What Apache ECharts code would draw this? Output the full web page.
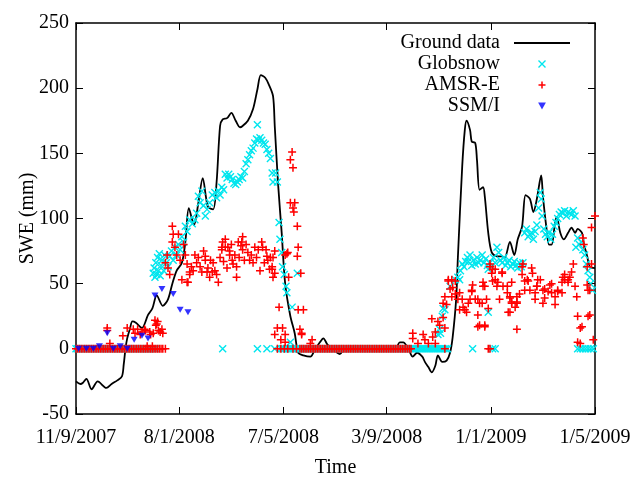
<!DOCTYPE html>
<html>
<head>
<meta charset="utf-8">
<script src="https://cdn.jsdelivr.net/npm/echarts@6/dist/echarts.min.js"></script>
<style>html,body{margin:0;padding:0;background:#fff}#c{width:635px;height:477px}</style>
</head>
<body>
<div id="c"></div>
<script>
// x values are days since 11/9/2007
const tickDays = [0, 119, 239, 358, 478, 598];
const tickLabels = ['11/9/2007', '8/1/2008', '7/5/2008', '3/9/2008', '1/1/2009', '1/5/2009'];
const yTicks = [-50, 0, 50, 100, 150, 200, 250];

const groundData = [[0,-25],[5,-27],[8,-26],[12,-23],[18,-31],[25,-25],[35,-30],[41,-27],[48,-24],[53,-21],[55,-12],[57,0],[59,8],[62,15],[65,21],[69,20],[76,16],[83,26],[88,31],[93,41],[100,33],[106,38],[111,50],[116,60],[122,66],[126,82],[130,108],[136,95],[141,112],[146,131],[152,109],[158,107],[162,128],[166,171],[169,176],[174,177],[179,181],[184,175],[189,170],[192,171],[198,175],[204,184],[209,199],[213,210],[218,208],[222,203],[227,194],[229,171],[233,125],[237,89],[241,50],[247,25],[252,12],[256,-3],[262,-5],[270,-6],[275,-1],[281,5],[285,8],[290,3],[296,0],[301,-3],[304,-4],[310,0],[321,0],[339,0],[356,0],[368,0],[373,5],[377,5],[383,0],[388,-6],[393,-3],[399,-6],[402,-10],[406,-14],[410,-18],[414,-13],[417,-5],[422,-10],[427,-9],[431,-3],[434,9],[438,38],[440,70],[445,140],[448,168],[450,175],[454,168],[456,159],[460,158],[462,145],[465,122],[469,124],[471,117],[475,89],[479,74],[485,71],[491,71],[494,70],[500,82],[505,72],[509,84],[514,94],[518,118],[523,115],[527,105],[531,115],[536,133],[538,117],[542,93],[545,80],[548,80],[552,97],[554,101],[558,89],[562,84],[567,89],[571,93],[575,89],[578,92],[583,89],[585,81],[589,71],[592,63],[598,62]];

const globsnowZeroDays = [0,2,4,6,8,10,12,14,16,18,20,22,24,26,28,30,32,34,36,38,40,42,44,46,48,50,52,54,56,58,60,62,64,66,68,70,72,74,76,78,80,82,84,86,88,90,92,
169,209,220,229,
236,238,240,242,244,246,248,250,252,254,256,258,260,262,264,266,268,270,272,274,276,278,280,282,284,286,288,290,292,294,296,298,300,302,304,306,308,310,312,314,316,318,320,322,324,326,328,330,332,334,336,338,340,342,344,346,348,350,352,354,356,358,360,362,364,366,368,370,372,374,376,378,380,382,384,386,388,390,392,394,396,398,400,402,404,406,408,410,412,414,416,418,420,422,424,426,428,
457,480,483,578,581,584,587,590,593,596];

const globsnowData = [[89,58],[90,62],[91,55],[92,66],[93,57],[94,70],[95,60],[96,73],[97,56],[98,64],[99,68],[101,60],[102,72],[104,66],[106,63],[108,71],[110,75],[112,68],[114,78],[116,72],[118,80],[120,76],[122,86],[124,82],[126,94],[128,90],[131,99],[134,96],[137,99],[139,104],[141,117],[143,112],[145,121],[147,110],[149,102],[151,107],[154,112],[157,118],[160,120],[162,116],[164,121],[166,118],[168,124],[170,122],[172,134],[174,131],[176,134],[178,132],[180,130],[182,127],[184,126],[186,128],[188,130],[190,132],[192,131],[194,136],[196,142],[198,145],[200,149],[202,152],[204,154],[206,158],[208,161],[209,172],[210,160],[212,162],[214,160],[216,158],[218,157],[220,153],[222,150],[224,146],[226,135],[227,128],[230,135],[232,128],[234,97],[235,84],[237,74],[238,63],[240,57],[242,48],[243,43],[249,32],[255,58],[247,5],
[417,11],[419,15],[420,12],[422,25],[423,31],[425,30],[431,48],[437,53],[440,55],[442,53],[443,60],[445,65],[447,63],[449,67],[451,70],[452,67],[454,72],[456,64],[458,68],[460,65],[462,70],[464,66],[466,68],[468,72],[470,66],[472,69],[474,64],[475,61],[475,28],[477,66],[479,63],[481,70],[483,66],[485,78],[487,74],[489,68],[491,66],[493,70],[495,64],[497,66],[499,68],[501,63],[503,65],[505,67],[507,64],[509,62],[511,66],[513,63],[515,66],[517,89],[519,92],[521,86],[523,88],[525,89],[527,84],[529,90],[531,95],[533,108],[535,120],[536,115],[537,102],[539,92],[541,88],[543,86],[545,89],[547,84],[549,88],[551,94],[553,97],[555,100],[557,103],[559,105],[561,104],[563,106],[565,102],[567,105],[569,104],[571,103],[573,106],[575,102],[576,78],[578,85],[580,80],[582,82],[584,76],[586,72],[588,65],[590,60],[592,55],[593,50],[595,45]];

const amsrZeroDays = [0,2,4,6,8,10,12,14,16,18,20,22,24,26,28,30,32,34,36,38,40,42,44,46,48,50,52,54,56,58,60,62,64,66,68,70,72,74,76,78,80,82,84,86,88,90,92,94,96,98,100,103,
232,236,240,244,250,254,
258,260,262,264,266,268,270,272,274,276,278,280,282,284,286,288,290,292,294,296,298,300,302,304,306,308,310,312,314,316,318,320,322,324,326,328,330,332,334,336,338,340,342,344,346,348,350,352,354,356,358,360,362,364,366,368,370,372,374,376,378,380,382,384,386,
425,475,477];

const amsrData = [[36,16],[36,14],[39,4],[54,10],[59,16],[66,15],[68,12],[71,15],[74,11],[76,13],[79,15],[80,14],[82,2],[85,13],[86,11],[88,2],[89,12],[91,22],[92,18],[93,19],[94,21],[95,14],[97,13],[99,15],[100,12],
[111,94],[112,88],[111,82],[114,78],[105,72],[103,66],[106,62],[108,57],[116,72],[120,68],[126,72],[128,65],[131,59],[131,57],[129,51],[122,53],[128,51],[137,72],[141,70],[149,68],[145,59],[151,59],[154,55],[157,59],[164,51],[172,84],[168,78],[175,78],[177,72],[181,65],[185,55],[187,82],
[149,71],[158,66],[169,82],[172,78],[168,76],[177,75],[180,68],[185,63],[191,82],[192,86],[190,79],[192,76],[198,74],[200,68],[204,66],[210,76],[214,82],[215,78],[220,71],[221,68],[226,63],[223,61],[229,58],
[118,88],[124,80],[133,63],[135,60],[139,66],[143,63],[147,75],[152,62],[155,68],[160,60],[162,57],[166,70],[170,67],[174,62],[179,80],[183,72],[188,70],[194,68],[196,80],[202,72],[206,78],[208,70],[212,60],[217,66],[219,76],[224,70],
[244,74],[247,145],[249,151],[250,139],[247,112],[252,112],[250,108],[251,105],[255,94],[256,78],[255,71],[241,72],[243,73],[229,75],[227,70],[226,61],[227,55],[245,55],[259,58],[234,32],[256,30],[262,30],[232,16],[238,16],[229,11],[241,11],[258,15],[260,11],[236,7],[241,5],[272,7],[260,12],[270,4],
[388,12],[388,8],[394,4],[400,11],[402,7],[406,4],[410,23],[411,9],[414,4],[417,21],[419,18],[414,13],[423,35],[425,40],[429,53],[431,46],[433,53],[437,42],[440,38],[446,32],[450,28],[452,35],[456,45],[457,49],[463,38],[465,35],[463,26],[465,18],[471,18],[469,48],[473,38],[475,31],
[429,52],[437,52],[434,47],[433,40],[427,34],[423,24],[425,16],[442,43],[445,38],[442,30],[448,30],[454,38],[456,44],[460,38],[468,35],[463,17],[471,17],[469,51],[471,48],[477,65],[479,58],[480,52],[483,61],[486,51],[491,58],[492,48],[497,43],[500,39],[502,35],[498,28],[508,40],[508,15],
[477,63],[480,61],[483,53],[485,48],[488,38],[491,59],[497,48],[502,36],[508,35],[500,28],
[515,65],[514,57],[517,52],[521,52],[525,62],[526,58],[532,53],[535,53],[531,48],[529,43],[529,38],[538,45],[540,39],[538,35],[546,49],[548,43],[552,40],[555,45],[560,51],[561,55],[563,53],[567,51],[569,55],[571,59],[573,65],[575,48],[577,40],[578,25],[581,16],[578,5],[584,85],[585,80],[589,63],[590,45],[592,26],[594,93],[598,102],[502,51],[500,40],[508,36],[506,32],[511,42],[517,45],
[514,63],[520,53],[523,45],[531,48],[540,46],[544,44],[548,50],[552,34],[555,44],[560,43],[563,57],[567,53],[583,17],[581,4],[589,49],[590,25],[596,7],[594,65],[592,45]];

const ssmiData = [[3,0],[12,0],[20,0],[27,2],[36,12],[43,0],[51,2],[59,0],[67,7],[76,10],[83,8],[91,41],[99,46],[112,42],[120,30],[129,28]];

const FONT = 'Liberation Serif';
const CYAN = '#00e6ee', RED = '#ff0000', BLUE = '#0000ff';
const xPath = 'path://M0,0L10,10M10,0L0,10';
const plusPath = 'path://M5,0L5,10M0,5L10,5';
const triPath = 'path://M0,0L10,0L5,9Z';
const linePath = 'path://M0,0L56,0L56,1.8L0,1.8Z';

const chart = echarts.init(document.getElementById('c'), null, {renderer: 'canvas'});
const axisCommon = {
  axisLine: {show: true, onZero: false, lineStyle: {color: '#000', width: 1.5}},
  splitLine: {show: false}
};
chart.setOption({
  animation: false,
  backgroundColor: '#fff',
  grid: {left: 76, right: 40, top: 23, bottom: 63, containLabel: false, outerBoundsMode: 'none'},
  legend: {
    orient: 'vertical', right: 60, top: 28, align: 'right',
    itemWidth: 56, itemHeight: 7, itemGap: 1,
    textStyle: {fontFamily: FONT, fontSize: 20, color: '#000', padding: [0, 9, 0, 0]},
    data: [
      {name: 'Ground data', icon: linePath, itemStyle: {color: '#000', borderWidth: 0}},
      {name: 'Globsnow', icon: xPath, itemStyle: {color: CYAN, borderColor: CYAN, borderWidth: 1.4}},
      {name: 'AMSR-E', icon: plusPath, itemStyle: {color: RED, borderColor: RED, borderWidth: 1.5}},
      {name: 'SSM/I', icon: triPath, itemStyle: {color: BLUE, borderColor: BLUE, borderWidth: 0}}
    ]
  },
  xAxis: [
    Object.assign({
      type: 'value', position: 'bottom', min: 0, max: 598,
      name: 'Time', nameLocation: 'middle', nameGap: 44, nameMoveOverlap: false,
      nameTextStyle: {fontFamily: FONT, fontSize: 20, color: '#000'},
      axisTick: {show: true, inside: true, length: 7, customValues: tickDays, lineStyle: {color: '#000', width: 1}},
      axisLabel: {show: true, margin: 14, customValues: tickDays, fontFamily: FONT, fontSize: 20, color: '#000',
        formatter: v => tickLabels[tickDays.indexOf(v)] || ''}
    }, axisCommon),
    Object.assign({
      type: 'value', position: 'top', min: 0, max: 598,
      axisTick: {show: true, inside: true, length: 7, customValues: tickDays, lineStyle: {color: '#000', width: 1}},
      axisLabel: {show: false}
    }, axisCommon)
  ],
  yAxis: [
    Object.assign({
      type: 'value', position: 'left', min: -50, max: 250, interval: 50,
      name: 'SWE (mm)', nameLocation: 'middle', nameGap: 38, nameMoveOverlap: false,
      nameTextStyle: {fontFamily: FONT, fontSize: 20, color: '#000'},
      axisTick: {show: true, inside: true, length: 7, lineStyle: {color: '#000', width: 1}},
      axisLabel: {show: true, margin: 7, fontFamily: FONT, fontSize: 20, color: '#000'}
    }, axisCommon),
    Object.assign({
      type: 'value', position: 'right', min: -50, max: 250, interval: 50,
      axisTick: {show: true, inside: true, length: 7, lineStyle: {color: '#000', width: 1}},
      axisLabel: {show: false}
    }, axisCommon)
  ],
  series: [
    {name: 'Ground data', type: 'line', data: groundData, showSymbol: false, symbol: 'none', smooth: 0.3,
     lineStyle: {color: '#000', width: 1.8}, itemStyle: {color: '#000'}, z: 2},
    {name: 'Globsnow', type: 'scatter', symbol: xPath, symbolSize: 7,
     data: globsnowZeroDays.map(d => [d, 0]).concat(globsnowData),
     itemStyle: {color: CYAN, borderColor: CYAN, borderWidth: 1.4, opacity: 1}, z: 3},
    {name: 'AMSR-E', type: 'scatter', symbol: plusPath, symbolSize: 8,
     data: amsrZeroDays.map(d => [d, 0]).concat(amsrData),
     itemStyle: {color: RED, borderColor: RED, borderWidth: 1.5, opacity: 1}, z: 4},
    {name: 'SSM/I', type: 'scatter', symbol: triPath, symbolSize: [7, 6],
     data: ssmiData, itemStyle: {color: BLUE}, z: 5}
  ]
});
</script>
</body>
</html>
